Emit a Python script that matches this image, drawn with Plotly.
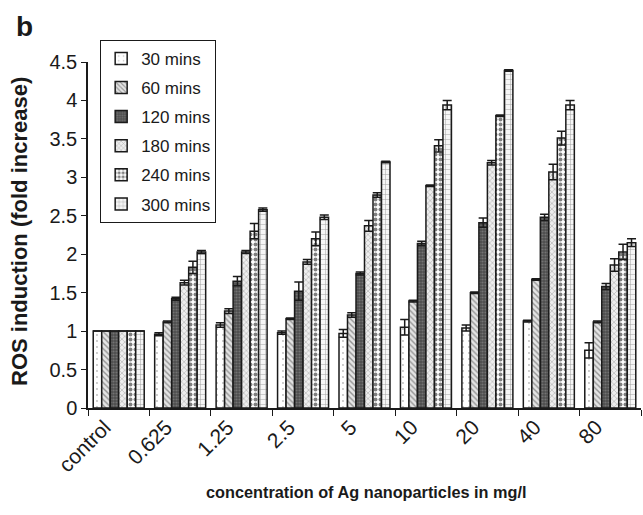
import plotly.graph_objects as go

categories = ["control", "0.625", "1.25", "2.5", "5", "10", "20", "40", "80"]
series_names = ["30 mins", "60 mins", "120 mins", "180 mins", "240 mins", "300 mins"]

v30 = [1.0, 0.96, 1.08, 0.98, 0.97, 1.05, 1.04, 1.13, 0.75]
v60 = [1.0, 1.12, 1.26, 1.16, 1.21, 1.39, 1.50, 1.67, 1.12]
v120 = [1.0, 1.42, 1.65, 1.52, 1.75, 2.14, 2.41, 2.48, 1.58]
v180 = [1.0, 1.63, 2.03, 1.90, 2.37, 2.89, 3.19, 3.07, 1.86]
v240 = [1.0, 1.83, 2.30, 2.20, 2.77, 3.41, 3.80, 3.51, 2.03]
v300 = [1.0, 2.03, 2.58, 2.48, 3.20, 3.94, 4.39, 3.94, 2.15]

e30 = [0, 0.02, 0.03, 0.02, 0.05, 0.10, 0.04, 0.01, 0.10]
e60 = [0, 0.01, 0.03, 0.01, 0.03, 0.01, 0.01, 0.01, 0.01]
e120 = [0, 0.02, 0.06, 0.12, 0.02, 0.03, 0.06, 0.04, 0.04]
e180 = [0, 0.03, 0.02, 0.03, 0.07, 0.01, 0.03, 0.10, 0.08]
e240 = [0, 0.08, 0.10, 0.09, 0.03, 0.08, 0.01, 0.09, 0.10]
e300 = [0, 0.02, 0.02, 0.03, 0.01, 0.06, 0.01, 0.06, 0.05]

values = [v30, v60, v120, v180, v240, v300]
errors = [e30, e60, e120, e180, e240, e300]

patterns = [
    dict(shape=".", bgcolor="white", fgcolor="#777777", size=6, solidity=0.08),
    dict(shape="\\", bgcolor="#e4e4e4", fgcolor="#444444", size=4, solidity=0.35),
    dict(shape=".", bgcolor="#4d4d4d", fgcolor="#9a9a9a", size=3, solidity=0.4),
    dict(shape="x", bgcolor="#eeeeee", fgcolor="#777777", size=4, solidity=0.3),
    dict(shape=".", bgcolor="white", fgcolor="#000000", size=5, solidity=0.5),
    dict(shape="+", bgcolor="#f6f6f6", fgcolor="#555555", size=5, solidity=0.2),
]

ink = "#1a1a1a"
fig = go.Figure()
for i, name in enumerate(series_names):
    fig.add_trace(go.Bar(
        x=categories, y=values[i], name=name,
        legendgroup=name,
        marker=dict(color="white", pattern=patterns[i],
                    line=dict(color=ink, width=1.5)),
        error_y=dict(type="data", array=errors[i], visible=True,
                     color=ink, thickness=1.5, width=4.5),
    ))

fig.update_layout(
    width=643, height=515,
    margin=dict(l=88, r=2, t=62, b=107),
    paper_bgcolor="white", plot_bgcolor="white",
    barmode="group", bargap=0.17, bargroupgap=0,
    font=dict(family="Liberation Sans, Arial, sans-serif", size=20, color=ink),
    showlegend=True,
    legend=dict(x=0.022, y=1.064, xanchor="left", yanchor="top",
                bordercolor=ink, borderwidth=1, bgcolor="white",
                font=dict(size=17), tracegroupgap=4, itemwidth=30),
    annotations=[
        dict(text="<b>b</b>", xref="paper", yref="paper", x=-0.114, y=1.104,
             showarrow=False, font=dict(size=28), xanchor="center", yanchor="middle"),
        dict(text="<b>ROS induction (fold increase)</b>", xref="paper", yref="paper",
             x=-0.123, y=0.5116, textangle=-90, showarrow=False,
             font=dict(size=22), xanchor="center", yanchor="middle"),
        dict(text="<b>concentration of Ag nanoparticles in mg/l</b>", xref="paper", yref="paper",
             x=0.503, y=-0.243, showarrow=False,
             font=dict(size=16.3), xanchor="center", yanchor="middle"),
    ],
)

fig.update_yaxes(
    range=[0, 4.5], tickvals=[0, 0.5, 1, 1.5, 2, 2.5, 3, 3.5, 4, 4.5],
    ticktext=["0", "0.5", "1", "1.5", "2", "2.5", "3", "3.5", "4", "4.5"],
    showgrid=False, zeroline=False, showline=True, linecolor=ink, linewidth=1.5,
    ticks="outside", ticklen=5, tickcolor=ink, tickfont=dict(size=20),
)
fig.update_xaxes(
    showgrid=False, showline=True, linecolor=ink, linewidth=1.5,
    ticks="outside", ticklen=6, tickcolor=ink, tickson="boundaries",
    tickangle=-45, tickfont=dict(size=21), ticklabelshift=-14, ticklabelstandoff=-3,
)

fig.write_html("out.html")
